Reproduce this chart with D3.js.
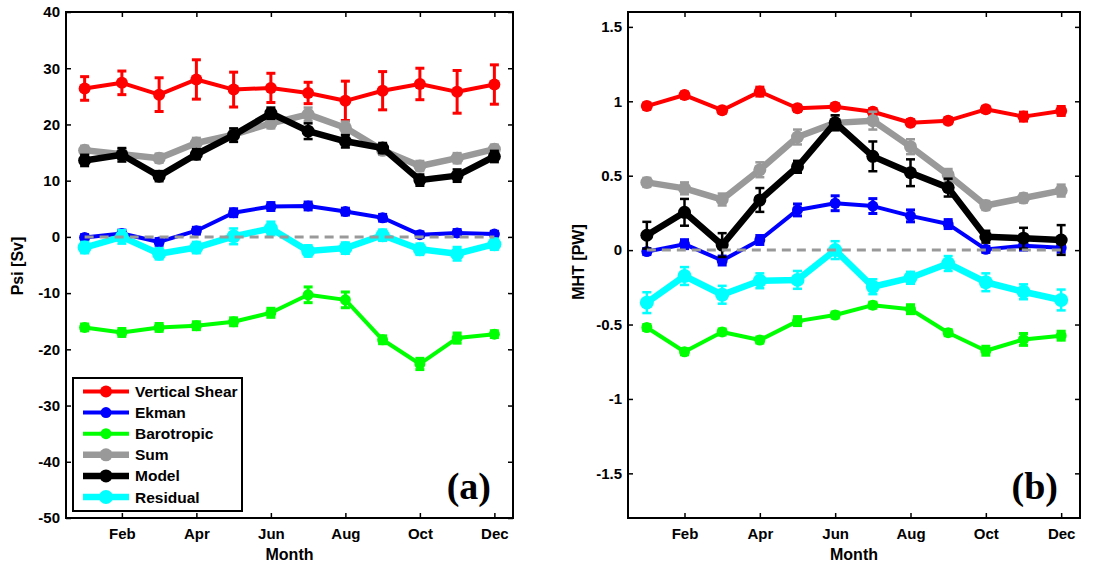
<!DOCTYPE html>
<html lang="en">
  <head>
    <meta charset="utf-8">
    <title>Psi and MHT by month</title>
    <style>
      body { margin: 0; background: #fff; }
      text { font-family: "Liberation Sans", Arial, sans-serif; font-weight: bold; }
    </style>
  </head>
  <body>
    <svg id="chart"></svg>

    <script src="https://d3js.org/d3.v7.min.js"></script>

    <script type="text/javascript">
      // months along x
      const months = [1, 2, 3, 4, 5, 6, 7, 8, 9, 10, 11, 12];
      const xTickValues = [2, 4, 6, 8, 10, 12];
      const xTickLabels = ['Feb', 'Apr', 'Jun', 'Aug', 'Oct', 'Dec'];

      const seriesNames = ['Vertical Shear', 'Ekman', 'Barotropic', 'Sum', 'Model', 'Residual'];

      // panel (a): Psi [Sv]
      const psiTicks = [40, 30, 20, 10, 0, -10, -20, -30, -40, -50];
      const psiShear = [26.4, 27.4, 25.3, 28.0, 26.2, 26.5, 25.6, 24.2, 26.0, 27.2, 25.8, 27.1];
      const psiShearErr = [2.1, 2.1, 3.0, 3.5, 3.1, 2.6, 1.9, 3.5, 3.4, 2.8, 3.8, 3.5];
      const psiEkman = [-0.1, 0.6, -0.9, 1.1, 4.3, 5.4, 5.5, 4.5, 3.4, 0.4, 0.7, 0.5];
      const psiEkmanErr = [0.5, 0.6, 0.6, 0.6, 0.7, 0.7, 0.7, 0.6, 0.6, 0.5, 0.6, 0.5];
      const psiBaro = [-16.1, -17.0, -16.1, -15.8, -15.1, -13.5, -10.3, -11.2, -18.3, -22.6, -18.0, -17.3];
      const psiBaroErr = [0.6, 0.7, 0.7, 0.7, 0.7, 0.8, 1.4, 1.4, 0.7, 1.0, 0.9, 0.6];
      const psiSum = [15.4, 14.7, 14.0, 16.7, 18.2, 20.2, 21.8, 19.4, 15.4, 12.6, 14.0, 15.6];
      const psiSumErr = [0.8, 0.9, 0.8, 0.9, 0.9, 0.9, 1.2, 1.1, 0.8, 0.9, 0.9, 0.8];
      const psiModel = [13.6, 14.6, 10.8, 14.7, 18.1, 22.0, 18.8, 17.0, 15.8, 10.1, 10.9, 14.3];
      const psiModelErr = [1.0, 1.2, 0.9, 0.9, 1.2, 1.0, 1.4, 1.1, 0.9, 1.0, 1.1, 1.0];
      const psiResid = [-1.9, 0.0, -3.0, -1.9, 0.1, 1.5, -2.5, -2.0, 0.3, -2.2, -3.0, -1.3];
      const psiResidErr = [1.0, 1.2, 1.0, 1.0, 1.4, 1.2, 1.0, 1.0, 1.0, 1.0, 1.2, 1.0];

      // panel (b): MHT [PW]
      const mhtTicks = [1.5, 1, 0.5, 0, -0.5, -1, -1.5];
      const mhtShear = [0.968, 1.042, 0.94, 1.065, 0.953, 0.964, 0.93, 0.856, 0.87, 0.946, 0.897, 0.935];
      const mhtShearErr = [0.02, 0.02, 0.02, 0.03, 0.02, 0.02, 0.02, 0.02, 0.02, 0.02, 0.03, 0.03];
      const mhtEkman = [-0.01, 0.04, -0.07, 0.068, 0.27, 0.315, 0.296, 0.23, 0.175, 0.005, 0.03, 0.016];
      const mhtEkmanErr = [0.02, 0.03, 0.03, 0.03, 0.04, 0.05, 0.05, 0.04, 0.03, 0.02, 0.03, 0.03];
      const mhtBaro = [-0.52, -0.683, -0.55, -0.604, -0.477, -0.436, -0.37, -0.397, -0.555, -0.676, -0.60, -0.575];
      const mhtBaroErr = [0.02, 0.02, 0.02, 0.02, 0.03, 0.02, 0.02, 0.03, 0.02, 0.03, 0.04, 0.03];
      const mhtSum = [0.455, 0.415, 0.34, 0.54, 0.76, 0.855, 0.87, 0.695, 0.505, 0.30, 0.35, 0.40];
      const mhtSumErr = [0.03, 0.04, 0.04, 0.05, 0.05, 0.05, 0.06, 0.05, 0.04, 0.03, 0.03, 0.04];
      const mhtModel = [0.10, 0.254, 0.034, 0.337, 0.56, 0.856, 0.63, 0.52, 0.42, 0.09, 0.08, 0.068];
      const mhtModelErr = [0.09, 0.09, 0.08, 0.08, 0.04, 0.05, 0.10, 0.09, 0.06, 0.04, 0.07, 0.10];
      const mhtResid = [-0.353, -0.174, -0.30, -0.206, -0.20, 0.0, -0.246, -0.186, -0.09, -0.216, -0.28, -0.335];
      const mhtResidErr = [0.07, 0.06, 0.06, 0.05, 0.06, 0.06, 0.05, 0.04, 0.05, 0.06, 0.05, 0.07];

      // styles
      const colors = ['#ff0000', '#0000ff', '#00ff00', '#999999', '#000000', '#00ffff'];
      const lineW = [4, 4, 4, 6.5, 6.5, 6.5];
      const markR = [6, 5.5, 5.5, 6.5, 6.5, 7];

      const svg = d3.select('#chart')
        .attr('width', 1118)
        .attr('height', 566);

      function drawPanel(p) {
        const x = d3.scaleLinear().domain([0.5, 12.5]).range([p.left, p.right]);
        const y = d3.scaleLinear().domain(p.yDomain).range([p.bottom, p.top]);
        const g = svg.append('g');

        const line = d3.line()
          .x((d, j) => x(months[j]))
          .y(d => y(d));

        for (let i = 0; i < seriesNames.length; i++) {
          const vals = p.values[i];
          const errs = p.errors[i];
          const s = g.append('g');

          s.append('path')
            .datum(vals)
            .attr('d', line)
            .attr('fill', 'none')
            .attr('stroke', colors[i])
            .attr('stroke-width', lineW[i])
            .attr('stroke-linejoin', 'round');

          // error bars with caps
          const eb = s.selectAll('.eb').data(vals).join('g')
            .attr('stroke', colors[i])
            .attr('stroke-width', i > 2 ? 2.5 : 3);
          eb.append('line')
            .attr('x1', (d, j) => x(months[j])).attr('x2', (d, j) => x(months[j]))
            .attr('y1', (d, j) => y(d - errs[j])).attr('y2', (d, j) => y(d + errs[j]));
          eb.append('line')
            .attr('x1', (d, j) => x(months[j]) - 4.5).attr('x2', (d, j) => x(months[j]) + 4.5)
            .attr('y1', (d, j) => y(d + errs[j])).attr('y2', (d, j) => y(d + errs[j]));
          eb.append('line')
            .attr('x1', (d, j) => x(months[j]) - 4.5).attr('x2', (d, j) => x(months[j]) + 4.5)
            .attr('y1', (d, j) => y(d - errs[j])).attr('y2', (d, j) => y(d - errs[j]));

          s.selectAll('circle').data(vals).join('circle')
            .attr('cx', (d, j) => x(months[j]))
            .attr('cy', d => y(d))
            .attr('r', markR[i])
            .attr('fill', colors[i]);
        }

        // dashed zero line
        g.append('line')
          .attr('x1', x(1)).attr('x2', x(12))
          .attr('y1', y(0)).attr('y2', y(0))
          .attr('stroke', '#999999')
          .attr('stroke-width', 3)
          .attr('stroke-dasharray', '9,6');

        // axes, ticks inward on all four sides
        g.append('g')
          .attr('transform', `translate(${p.left},0)`)
          .call(d3.axisLeft(y).tickValues(p.yTicks).tickFormat(d => String(d))
            .tickSizeInner(-5).tickSizeOuter(0).tickPadding(6))
          .call(a => a.select('.domain').remove());
        g.append('g')
          .attr('transform', `translate(${p.right},0)`)
          .call(d3.axisRight(y).tickValues(p.yTicks).tickFormat('')
            .tickSizeInner(-5).tickSizeOuter(0))
          .call(a => a.select('.domain').remove());
        g.append('g')
          .attr('transform', `translate(0,${p.bottom})`)
          .call(d3.axisBottom(x).tickValues(xTickValues).tickFormat((d, k) => xTickLabels[k])
            .tickSizeInner(-5).tickSizeOuter(0).tickPadding(10))
          .call(a => a.select('.domain').remove());
        g.append('g')
          .attr('transform', `translate(0,${p.top})`)
          .call(d3.axisTop(x).tickValues(xTickValues).tickFormat('')
            .tickSizeInner(-5).tickSizeOuter(0))
          .call(a => a.select('.domain').remove());

        g.selectAll('.tick line').attr('stroke', '#000').attr('stroke-width', 1.5);
        g.selectAll('.tick text')
          .attr('fill', '#000')
          .style('font-size', '15px')
          .style('font-family', '"Liberation Sans", Arial, sans-serif')
          .style('font-weight', 'bold');

        g.append('rect')
          .attr('x', p.left).attr('y', p.top)
          .attr('width', p.right - p.left).attr('height', p.bottom - p.top)
          .attr('fill', 'none')
          .attr('stroke', '#000')
          .attr('stroke-width', 2);

        g.append('text')
          .attr('x', (p.left + p.right) / 2)
          .attr('y', 560)
          .attr('text-anchor', 'middle')
          .style('font-size', '16px')
          .text('Month');

        g.append('text')
          .attr('transform', `translate(${p.yLabelX},${p.yLabelY}) rotate(-90)`)
          .attr('text-anchor', 'middle')
          .style('font-size', '16px')
          .text(p.yLabel);

        g.append('text')
          .attr('x', p.right - 22)
          .attr('y', 499)
          .attr('text-anchor', 'end')
          .style('font-family', '"Liberation Serif", "DejaVu Serif", serif')
          .style('font-size', '38px')
          .text(p.tag);

        return { x, y };
      }

      drawPanel({
        left: 66, right: 513, top: 12, bottom: 518,
        yDomain: [-50, 40], yTicks: psiTicks,
        values: [psiShear, psiEkman, psiBaro, psiSum, psiModel, psiResid],
        errors: [psiShearErr, psiEkmanErr, psiBaroErr, psiSumErr, psiModelErr, psiResidErr],
        yLabel: 'Psi [Sv]', yLabelX: 23, yLabelY: 266, tag: '(a)'
      });

      drawPanel({
        left: 628, right: 1080, top: 12, bottom: 518,
        yDomain: [-1.8, 1.6], yTicks: mhtTicks,
        values: [mhtShear, mhtEkman, mhtBaro, mhtSum, mhtModel, mhtResid],
        errors: [mhtShearErr, mhtEkmanErr, mhtBaroErr, mhtSumErr, mhtModelErr, mhtResidErr],
        yLabel: 'MHT [PW]', yLabelX: 584, yLabelY: 262, tag: '(b)'
      });

      // legend in panel (a)
      const legend = svg.append('g');
      legend.append('rect')
        .attr('x', 73).attr('y', 378)
        .attr('width', 169).attr('height', 133)
        .attr('fill', '#fff')
        .attr('stroke', '#000')
        .attr('stroke-width', 2);

      const item = legend.selectAll('.item').data(seriesNames).join('g')
        .attr('transform', (d, i) => `translate(0,${391.5 + i * 21.1})`);
      item.append('line')
        .attr('x1', 83).attr('x2', 129)
        .attr('stroke', (d, i) => colors[i])
        .attr('stroke-width', (d, i) => lineW[i]);
      item.append('circle')
        .attr('cx', 106).attr('r', (d, i) => markR[i])
        .attr('fill', (d, i) => colors[i]);
      item.append('text')
        .attr('x', 135).attr('y', 5.5)
        .style('font-size', '15.5px')
        .text(d => d);
    </script>
  </body>
</html>
